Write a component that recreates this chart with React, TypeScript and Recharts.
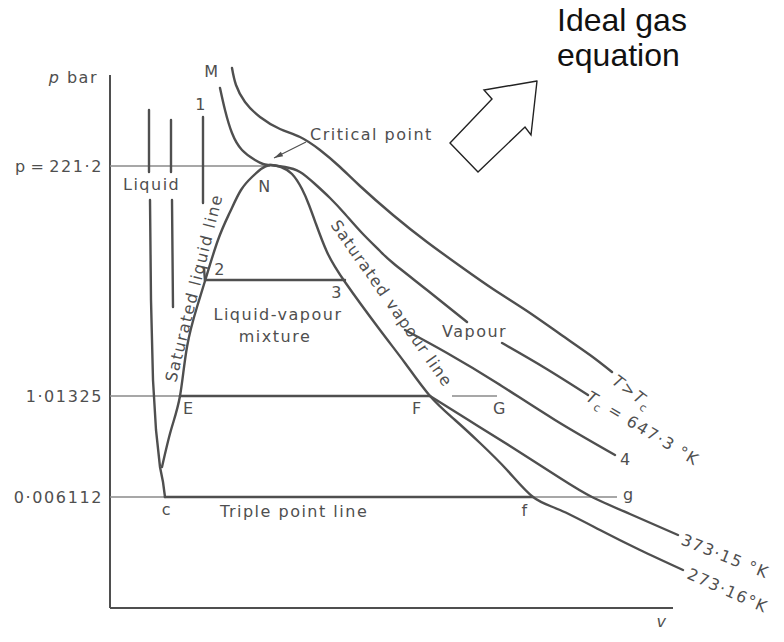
import { Line, LineChart, ReferenceDot, ReferenceLine, XAxis, YAxis } from "recharts";

// p-v diagram of water (v and p in drawing units)
type Pt = [number, number | null];

const P_CRIT = 44.2;
const P_ATM = 21.2;
const P_TRIPLE = 11.1;
const P_MIX = 32.8;

const yTicks = [P_TRIPLE, P_ATM, P_CRIT];
const yTickLabels = ["0·006112", "1·01325", "p = 221·2"];

// saturated liquid line -> N -> saturated vapour line, running on as the 273.16 K isotherm
const dome: Pt[] = [
  [5.2, 14.1], [6.1, 17.8], [7.0, 21.2], [7.7, 26.1], [8.7, 30.1], [9.5, 32.7],
  [10.8, 36.8], [12.0, 39.6], [13.1, 41.8], [14.2, 43.1], [15.1, 43.9], [16.0, 44.3],
  [17.1, 44.1], [18.2, 43.4], [19.2, 41.9], [19.9, 40.3], [20.6, 38.4], [21.7, 35.6],
  [23.5, 32.6], [27.0, 27.8], [29.5, 24.5], [32.0, 21.2], [34.5, 18.8], [37.0, 16.5],
  [39.7, 13.8], [42.3, 11.1], [45.0, 9.8], [49.0, 7.8], [53.0, 5.8], [57.3, 3.8],
];

const iso273Liquid: Pt[] = [
  [3.9, 49.8], [3.9, 43.6], [4.0, null], [4.0, 40.8], [4.1, 30.8], [4.3, 22.8],
  [4.6, 17.8], [5.0, 14.1], [5.3, 12.6], [5.5, 11.1],
];
const tripleLine: Pt[] = [[5.5, P_TRIPLE], [42.3, P_TRIPLE]];

const iso373Liquid: Pt[] = [[6.1, 48.8], [6.1, 43.6], [6.2, null], [6.2, 40.8], [6.3, 30.1]];
const boilLine: Pt[] = [[7.0, P_ATM], [32.0, P_ATM]];
const iso373Vapour: Pt[] = [
  [32.0, 21.2], [36.0, 18.7], [40.0, 16.2], [45.0, 13.0], [48.2, 11.1], [52.0, 9.4], [56.8, 7.3],
];

const iso4Liquid: Pt[] = [[9.3, 49.1], [9.3, 40.5], [9.4, null], [9.4, 34.0], [9.5, 32.7]];
const mixLine: Pt[] = [[9.5, P_MIX], [23.5, P_MIX]];
const iso4Vapour: Pt[] = [[29.5, 27.8], [33.7, 25.5], [38.7, 22.5], [44.5, 18.8], [50.5, 15.3]];

const isoCrit: Pt[] = [
  [11.0, 52.0], [11.5, 49.8], [12.2, 47.5], [13.2, 45.8], [14.5, 44.8], [15.3, 44.4],
  [16.0, 44.3], [17.5, 44.1], [19.0, 43.6], [20.5, 42.4], [22.0, 41.0], [23.5, 39.4],
  [25.2, 37.5], [27.0, 35.7], [28.3, 34.5], [31.7, 31.8], [35.7, 28.6], [37.5, null],
  [39.2, 26.5], [43.5, 24.0], [47.8, 21.3],
];

const isoHot: Pt[] = [
  [12.2, 54.0], [12.6, 52.3], [13.5, 50.6], [15.0, 49.1], [17.0, 47.9], [19.0, 47.1],
  [21.0, 45.8], [23.0, 44.1], [25.0, 42.2], [28.3, 39.3], [31.7, 36.6], [35.0, 34.2],
  [38.3, 31.9], [41.7, 29.7], [45.0, 27.4], [48.0, 25.3], [50.2, 23.6],
];

const critArrow: Pt[] = [[19.6, 46.6], [16.4, 45.0]];
const bigArrow: Pt[] = [
  [42.7, 52.7], [42.1, 47.3], [41.5, 48.1], [36.8, 43.6], [34.0, 46.5],
  [38.2, 50.9], [37.4, 51.8], [42.7, 52.7],
];

const rows = (pts: Pt[]) => pts.map(([v, p]) => ({ v, p }));

const INK = "#4f4f4f";
const THIN = "#8a8a8a";
const FONT = '"DejaVu Sans", sans-serif';

type NoteOpts = {
  anchor?: "start" | "middle" | "end";
  rot?: number;
  size?: number;
  italic?: boolean;
  fill?: string;
  family?: string;
  spacing?: number;
};

function note(key: string, v: number, p: number, text: React.ReactNode, o: NoteOpts = {}) {
  const { anchor = "start", rot = 0, size = 16, italic = false, fill = INK, family = FONT, spacing = 1.5 } = o;
  return (
    <ReferenceDot
      key={key}
      x={v}
      y={p}
      r={0}
      ifOverflow="visible"
      shape={(s: any) => (
        <text
          x={s.cx}
          y={s.cy}
          textAnchor={anchor}
          transform={rot ? `rotate(${rot} ${s.cx} ${s.cy})` : undefined}
          fontFamily={family}
          fontSize={size}
          fontStyle={italic ? "italic" : "normal"}
          letterSpacing={spacing}
          fill={fill}
        >
          {text}
        </text>
      )}
    />
  );
}

function curve(key: string, pts: Pt[], width = 2.4, type: "natural" | "linear" = "natural", color = INK) {
  return (
    <Line
      key={key}
      data={rows(pts)}
      dataKey="p"
      type={type}
      stroke={color}
      strokeWidth={width}
      strokeLinecap="round"
      dot={false}
      activeDot={false}
      connectNulls={false}
      isAnimationActive={false}
    />
  );
}

function guide(key: string, v0: number, v1: number, p: number) {
  return (
    <ReferenceLine
      key={key}
      segment={[{ x: v0, y: p }, { x: v1, y: p }]}
      stroke={THIN}
      strokeWidth={1.3}
      ifOverflow="visible"
    />
  );
}

const Sub = ({ children }: { children: string }) => (
  <tspan fontSize={11} dy={4}>{children}</tspan>
);

export default function App() {
  return (
    <div style={{ position: "absolute", left: 0, top: 0, background: "#fff" }}>
      <LineChart width={784} height={642} margin={{ top: 0, right: 0, bottom: 0, left: 50 }}>
        <XAxis type="number" dataKey="v" domain={[0, 67.4]} hide allowDataOverflow />
        <YAxis
          type="number"
          domain={[-3.4, 60.8]}
          allowDataOverflow
          width={60}
          ticks={yTicks}
          interval={0}
          axisLine={false}
          tickLine={false}
          tickSize={0}
          tickMargin={7}
          tick={(t: any) => (
            <text
              x={t.x}
              y={t.y}
              dy="0.4em"
              textAnchor="end"
              fontFamily={FONT}
              fontSize={16}
              letterSpacing={1.6}
              wordSpacing={-3}
              fill={INK}
            >
              {yTickLabels[yTicks.indexOf(t.payload.value)]}
            </text>
          )}
        />

        {/* axes */}
        <ReferenceLine segment={[{ x: 0, y: 0 }, { x: 0, y: 53.3 }]} stroke={INK} strokeWidth={2} ifOverflow="visible" />
        <ReferenceLine segment={[{ x: 0, y: 0 }, { x: 56.3, y: 0 }]} stroke={INK} strokeWidth={2} ifOverflow="visible" />

        {/* thin pressure levels */}
        {guide("gc", 0, 16.0, P_CRIT)}
        {guide("ga", 0, 7.0, P_ATM)}
        {guide("ga2", 34.2, 38.7, P_ATM)}
        {guide("gt", 0, 5.5, P_TRIPLE)}
        {guide("gt2", 42.3, 50.7, P_TRIPLE)}

        {curve("dome", dome)}
        {curve("i273l", iso273Liquid, 2.4, "linear")}
        {curve("triple", tripleLine, 2.6, "linear")}
        {curve("i373l", iso373Liquid, 2.4, "linear")}
        {curve("boil", boilLine, 2.6, "linear")}
        {curve("i373v", iso373Vapour)}
        {curve("i4l", iso4Liquid, 2.4, "linear")}
        {curve("mix", mixLine, 2.4, "linear")}
        {curve("i4v", iso4Vapour)}
        {curve("crit", isoCrit)}
        {curve("hot", isoHot)}
        {curve("bigArrow", bigArrow, 1.4, "linear", "#222")}

        <Line
          data={rows(critArrow)}
          dataKey="p"
          type="linear"
          stroke={INK}
          strokeWidth={1.2}
          activeDot={false}
          isAnimationActive={false}
          dot={(d: any) =>
            d.index === 1 ? (
              <polygon
                key="head"
                points="0,0 9,-2.5 9,2.5"
                transform={`translate(${d.cx} ${d.cy}) rotate(-27)`}
                fill={INK}
              />
            ) : (
              <g key={`d${d.index}`} />
            )
          }
        />

        {note("pbar", -1.2, 52.5, <><tspan fontStyle="italic">p</tspan> bar</>, { anchor: "end" })}
        {note("M", 10.2, 53.1, "M", { anchor: "middle" })}
        {note("1", 9.1, 49.8, "1", { anchor: "middle" })}
        {note("cp", 20.0, 46.8, "Critical point")}
        {note("liq", 1.3, 41.8, "Liquid")}
        {note("N", 15.5, 41.6, "N", { anchor: "middle" })}
        {note("2", 11.0, 33.3, "2", { anchor: "middle" })}
        {note("3", 22.7, 31.0, "3", { anchor: "middle" })}
        {note("lv", 16.8, 28.8, "Liquid-vapour", { anchor: "middle" })}
        {note("mx", 16.5, 26.6, "mixture", { anchor: "middle" })}
        {note("vap", 33.2, 27.1, "Vapour")}
        {note("E", 7.3, 19.4, "E")}
        {note("F", 30.2, 19.4, "F")}
        {note("G", 38.3, 19.4, "G")}
        {note("c", 5.7, 9.3, "c", { anchor: "middle" })}
        {note("tpl", 11.0, 9.1, "Triple point line")}
        {note("f", 41.5, 9.2, "f", { anchor: "middle" })}
        {note("g", 51.3, 10.8, "g")}
        {note("4", 51.0, 14.3, "4")}
        {note("v", 55.2, -1.9, "v", { anchor: "middle", italic: true })}
        {note("sll", 6.6, 22.5, "Saturated liquid line", { rot: -76 })}
        {note("svl", 22.0, 38.3, "Saturated vapour line", { rot: 55, spacing: 1.2 })}
        {note("hot", 50.1, 22.5, <><tspan fontStyle="italic">T</tspan>{">"}<tspan fontStyle="italic">T</tspan><Sub>c</Sub></>, { rot: 37 })}
        {note("tc", 47.5, 20.8, <><tspan fontStyle="italic">T</tspan><Sub>c</Sub><tspan dy={-4}> = 647·3 °K</tspan></>, { rot: 31 })}
        {note("t373", 57.0, 6.4, "373·15 °K", { rot: 22 })}
        {note("t273", 57.6, 3.0, "273·16°K", { rot: 24 })}
        {note("ig1", 44.7, 57.7, "Ideal gas", { size: 32, fill: "#111", family: '"Liberation Sans", Arial, sans-serif', spacing: 0 })}
        {note("ig2", 44.7, 54.2, "equation", { size: 32, fill: "#111", family: '"Liberation Sans", Arial, sans-serif', spacing: 0 })}
      </LineChart>
    </div>
  );
}
